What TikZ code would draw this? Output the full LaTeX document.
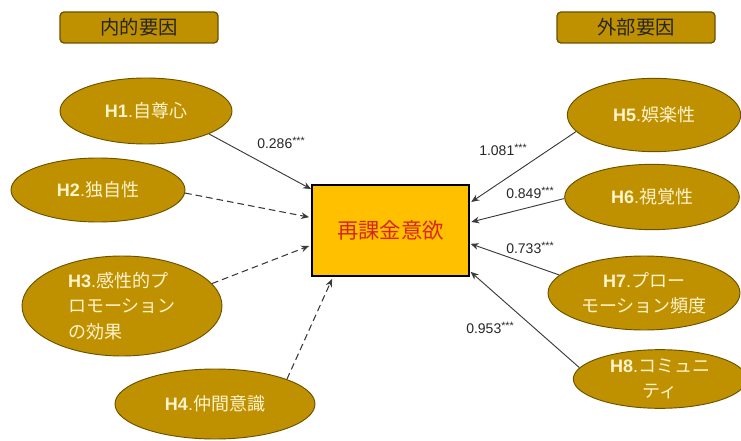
\documentclass[tikz,border=0pt]{standalone}
\usepackage{fontspec}
\setmainfont{Liberation Sans}
\newfontfamily\cjk{Noto Sans CJK JP}
\usetikzlibrary{shapes.geometric,arrows.meta}
\definecolor{gold}{HTML}{BF9000}
\definecolor{golddark}{HTML}{6B5200}
\definecolor{boxfill}{HTML}{FFC000}
\definecolor{cream}{HTML}{FFF4CC}
\definecolor{conn}{HTML}{3A3A3A}
\definecolor{redtext}{HTML}{D8261A}
\tikzset{
  hyp/.style={ellipse, fill=gold, draw=golddark, line width=0.7pt, inner sep=0pt,
    text=cream, font=\fontsize{13.5}{19}\selectfont, align=center},
  titlebox/.style={rounded corners=3pt, fill=gold, draw=golddark, line width=1pt,
    text=black!85, font=\cjk\fontsize{14.5}{18}\selectfont, minimum width=118.5pt,
    minimum height=23.25pt, inner sep=0pt},
  target/.style={rectangle, fill=boxfill, draw=black, line width=1.4pt,
    minimum width=117.75pt, minimum height=68.25pt, inner sep=0pt,
    text=redtext, font=\cjk\fontsize{16}{19}\selectfont},
  solidarrow/.style={draw=conn, line width=0.7pt, -{Stealth[length=6pt,width=5pt]}},
  dasharrow/.style={draw=conn, line width=0.8pt, dashed, dash pattern=on 5pt off 3pt,
    -{Stealth[length=6pt,width=5pt]}},
  coef/.style={font=\fontsize{10.5}{12}\selectfont, text=black!85, inner sep=1pt}
}
\newcommand{\hl}[1]{{\bfseries #1}}
\newcommand{\stars}{\raisebox{0.3em}{\fontsize{8}{8}\selectfont ***}}
\begin{document}
\begin{tikzpicture}[x=0.75pt,y=-0.75pt]
\useasboundingbox (0,0) rectangle (741,441);
% titles
\node[titlebox] (t1) at (139,27.5) {内的要因};
\node[titlebox] (t2) at (636,27.5) {外部要因};
% target
\node[target] (c) at (390.5,230.5) {再課金意欲};
% left ellipses
\node[hyp, minimum width=129pt, minimum height=49.5pt] (h1) at (146,111) {\hl{H1}.{\cjk 自尊心}};
\node[hyp, minimum width=130.5pt, minimum height=48pt] (h2) at (98,190) {\hl{H2}.{\cjk 独自性}};
\node[hyp, minimum width=150pt, minimum height=75pt, align=left] (h3) at (122,306)
  {\hl{H3}.{\cjk 感性的プ}\\{\cjk ロモーション}\\{\cjk の効果}\hspace*{12pt}};
\node[hyp, minimum width=150pt, minimum height=52.5pt] (h4) at (215,404) {\hl{H4}.{\cjk 仲間意識}};
% right ellipses
\node[hyp, minimum width=130pt, minimum height=55pt] (h5) at (654,115) {\hl{H5}.{\cjk 娯楽性}};
\node[hyp, minimum width=131pt, minimum height=49pt] (h6) at (652,197) {\hl{H6}.{\cjk 視覚性}};
\node[hyp, minimum width=144pt, minimum height=55.5pt] (h7) at (644,293)
  {\hl{H7}.{\cjk プロー}\\{\cjk モーション頻度}};
\node[hyp, minimum width=130pt, minimum height=44pt] (h8) at (660,379)
  {\hl{H8}.{\cjk コミュニ}\\{\cjk ティ}};
% connectors
\draw[solidarrow] (h1.-20) -- ([yshift=-3.75pt]c.north west);
\draw[dasharrow] (h2.-2) -- ([xshift=-1.5pt,yshift=10pt]c.west);
\draw[dasharrow] (h3.14) -- ([xshift=-1.5pt,yshift=-11.6pt]c.west);
\draw[dasharrow] (h4.19) -- ([xshift=15.75pt,yshift=-1.5pt]c.south west);
\draw[solidarrow] (h5.192) -- ([xshift=1pt,yshift=21.4pt]c.east);
\draw[solidarrow] (h6.181) -- ([xshift=1pt,yshift=6.4pt]c.east);
\draw[solidarrow] (h7.168) -- ([xshift=0.5pt,yshift=-10pt]c.east);
\draw[solidarrow] (h8.172) -- ([xshift=0.5pt,yshift=-31pt]c.east);
% coefficients
\node[coef] (l1) at (281,143) {0.286\stars};
\node[coef] (l5) at (503,150) {1.081\stars};
\node[coef] (l6) at (530,193) {0.849\stars};
\node[coef] (l7) at (530,248) {0.733\stars};
\node[coef] (l8) at (490,328) {0.953\stars};
\end{tikzpicture}
\end{document}
